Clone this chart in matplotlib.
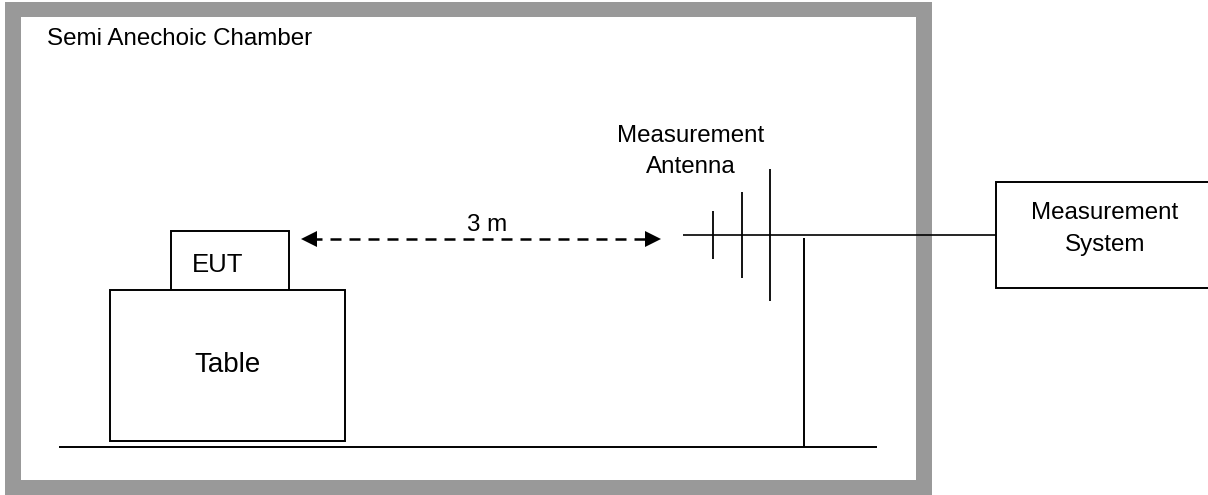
import matplotlib
matplotlib.use("Agg")
import matplotlib.pyplot as plt
from matplotlib.patches import Rectangle

plt.rcParams['font.family'] = ['Liberation Sans', 'DejaVu Sans']

# diagram geometry (image pixels)
chamber_outer = [5, 2, 932, 495]
chamber_inner = [21, 17, 916, 480]
boxes = [[171, 231, 289, 290], [110, 290, 345, 440.5], [996, 182, 1212, 288]]
ground = [59, 877, 447]
mast = [804, 238, 447]
boom = [683, 996, 235]
elements = [[713, 211, 259], [741.5, 192, 278], [770, 169, 301]]
arrow = [301, 660, 238.7]
labels = ["Semi Anechoic Chamber", "Measurement", "Antenna", "3 m", "EUT", "Table", "Measurement", "System"]
label_x = [47, 690.5, 690.5, 487, 192, 227.5, 1105, 1105]
label_base = [45, 142, 173, 231, 272, 372, 219, 251]
label_align = ["left", "center", "center", "center", "left", "center", "center", "center"]
label_size = [17.4, 17.4, 17.4, 17.4, 18.5, 20, 17.4, 17.4]

GREY = "#999999"

fig = plt.figure(figsize=(12.08, 4.95), dpi=100)
ax = fig.add_axes([0, 0, 1, 1])
ax.set_xlim(0, 1208)
ax.set_ylim(495, 0)
ax.axis("off")

def rect(b, **kw):
    return Rectangle((b[0], b[1]), b[2] - b[0], b[3] - b[1], **kw)

ax.add_patch(rect(chamber_outer, fc=GREY, ec="none", zorder=1))
ax.add_patch(rect(chamber_inner, fc="white", ec="none", zorder=1.1))

ax.plot(boom[:2], [boom[2]] * 2, color="black", lw=1.2, zorder=3, solid_capstyle="butt")
for b in boxes:
    ax.add_patch(rect(b, fc="white", ec="black", lw=1.4, zorder=4))

ax.plot(ground[:2], [ground[2]] * 2, color="black", lw=1.4, zorder=3, solid_capstyle="butt")
ax.plot([mast[0]] * 2, mast[1:], color="black", lw=1.4, zorder=3, solid_capstyle="butt")
for x, y0, y1 in elements:
    ax.plot([x, x], [y0, y1], color="black", lw=1.3, zorder=3, solid_capstyle="butt")

ax.plot([arrow[0] + 10, arrow[1] - 10], [arrow[2]] * 2, color="black", lw=1.8, zorder=3,
        dashes=(4.4, 3.2), dash_capstyle="butt")
ax.plot([arrow[0] + 7.5], [arrow[2]], marker="<", color="black", ms=11, mew=0, zorder=3)
ax.plot([arrow[1] - 7.5], [arrow[2]], marker=">", color="black", ms=11, mew=0, zorder=3)

for s, x, y, ha, fs in zip(labels, label_x, label_base, label_align, label_size):
    ax.text(x, y, s, ha=ha, va="baseline", fontsize=fs, color="black", zorder=5)

fig.savefig("out.png", dpi=100, facecolor="white")
